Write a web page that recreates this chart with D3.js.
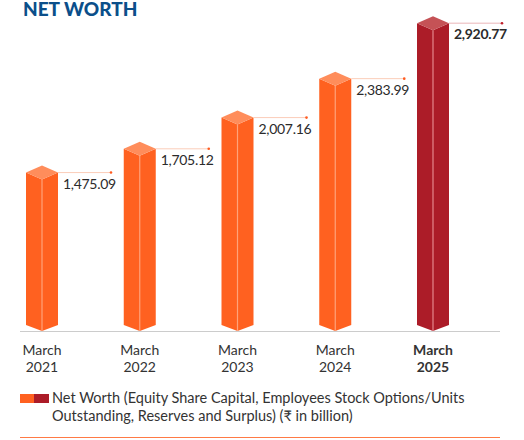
<!DOCTYPE html>
<html>
<head>
<meta charset="utf-8">
<script src="https://cdn.jsdelivr.net/npm/d3@7"></script>
<style>
  body { margin: 0; background: #fff; }
  svg { display: block; font-family: Lato, "Open Sans", sans-serif; }
</style>
</head>
<body>
<div id="chart"></div>
<script>
// Dados
const years = ["2021", "2022", "2023", "2024", "2025"];
const values = [1475.09, 1705.12, 2007.16, 2383.99, 2920.77];
const valueLabels = ["1,475.09", "1,705.12", "2,007.16", "2,383.99", "2,920.77"];
const highlight = [false, false, false, false, true];

const width = 524, height = 440;
const baseY = 325;  // base dos cantos das barras
const halfW = 16;   // meia largura da barra
const capH = 7;     // meia altura do topo

const colors = {
  normal: { face: "#ff6120", top: "#ff8d5b", edge: "#ffa27a", dot: "#ff5a1f", line: "#fbcdb9" },
  hi: { face: "#ac1c28", top: "#c55256", edge: "#e4878c", dot: "#c0202c", line: "#eab5b8" }
};

const svg = d3.select("#chart").append("svg")
  .attr("width", width)
  .attr("height", height);

const x = d3.scalePoint().domain(years).range([42, 433]);
const y = d3.scaleLinear().domain([0, 3000]).range([baseY, baseY - 310]);

// Titulo
svg.append("text")
  .attr("x", 23).attr("y", 16)
  .attr("fill", "#0b4f8a")
  .style("font-size", "19px")
  .style("font-weight", "900")
  .text("NET WORTH");

// Eixo
svg.append("line")
  .attr("x1", 20).attr("x2", 500)
  .attr("y1", 331.5).attr("y2", 331.5)
  .attr("stroke", "#cccccc").attr("stroke-width", 1);

const data = years.map((yr, i) => ({ yr, v: values[i], label: valueLabels[i], hi: highlight[i] }));

const bar = svg.append("g").selectAll("g")
  .data(data)
  .enter().append("g");

// Face frontal (dois lados)
bar.append("path")
  .attr("fill", d => (d.hi ? colors.hi : colors.normal).face)
  .attr("d", d => {
    const cx = x(d.yr), ty = y(d.v);
    return `M${cx - halfW},${ty} L${cx},${ty + capH} L${cx + halfW},${ty} ` +
      `L${cx + halfW},${baseY} L${cx},${baseY + capH - 1} L${cx - halfW},${baseY} Z`;
  });

// Topo
bar.append("path")
  .attr("fill", d => (d.hi ? colors.hi : colors.normal).top)
  .attr("d", d => {
    const cx = x(d.yr), ty = y(d.v);
    return `M${cx - halfW},${ty} L${cx},${ty - capH} L${cx + halfW},${ty} L${cx},${ty + capH} Z`;
  });

// Aresta central
bar.append("line")
  .attr("x1", d => x(d.yr)).attr("x2", d => x(d.yr))
  .attr("y1", d => y(d.v) + capH).attr("y2", baseY + capH - 1)
  .attr("stroke", d => (d.hi ? colors.hi : colors.normal).edge)
  .attr("stroke-width", 1.2);

// Linha do rotulo
bar.append("line")
  .attr("x1", d => x(d.yr) + halfW).attr("x2", d => x(d.yr) + 69)
  .attr("y1", d => y(d.v)).attr("y2", d => y(d.v))
  .attr("stroke", d => (d.hi ? colors.hi : colors.normal).line)
  .attr("stroke-width", 1);

bar.append("circle")
  .attr("cx", d => x(d.yr) + 69).attr("cy", d => y(d.v))
  .attr("r", 1.3)
  .attr("fill", d => (d.hi ? colors.hi : colors.normal).dot);

bar.append("text")
  .attr("x", d => x(d.yr) + 21).attr("y", d => y(d.v) + 16)
  .attr("fill", "#2b2b2b")
  .style("font-size", "14px")
  .style("font-weight", d => d.hi ? "700" : "400")
  .style("letter-spacing", "-0.3px")
  .text(d => d.label);

// Rotulos do eixo
const tick = svg.append("g").selectAll("text")
  .data(data)
  .enter().append("text")
  .attr("x", d => x(d.yr))
  .attr("text-anchor", "middle")
  .attr("fill", "#333")
  .style("font-size", "14px")
  .style("font-weight", d => d.hi ? "700" : "400");

tick.append("tspan").attr("x", d => x(d.yr)).attr("y", 355).text("March");
tick.append("tspan").attr("x", d => x(d.yr)).attr("y", 372).text(d => d.yr);

// Legenda
svg.append("rect").attr("x", 20).attr("y", 394).attr("width", 14).attr("height", 9).attr("fill", colors.normal.face);
svg.append("rect").attr("x", 34).attr("y", 394).attr("width", 15).attr("height", 9).attr("fill", colors.hi.face);

const legend = svg.append("text")
  .attr("fill", "#333")
  .style("font-size", "14.5px");
legend.append("tspan").attr("x", 52).attr("y", 403)
  .text("Net Worth (Equity Share Capital, Employees Stock Options/Units");
legend.append("tspan").attr("x", 52).attr("y", 421)
  .text("Outstanding, Reserves and Surplus) (₹ in billion)");

// Linha inferior
svg.append("line")
  .attr("x1", 20).attr("x2", 500)
  .attr("y1", 437.5).attr("y2", 437.5)
  .attr("stroke", "#ff7a45").attr("stroke-width", 1.2);
</script>
</body>
</html>
